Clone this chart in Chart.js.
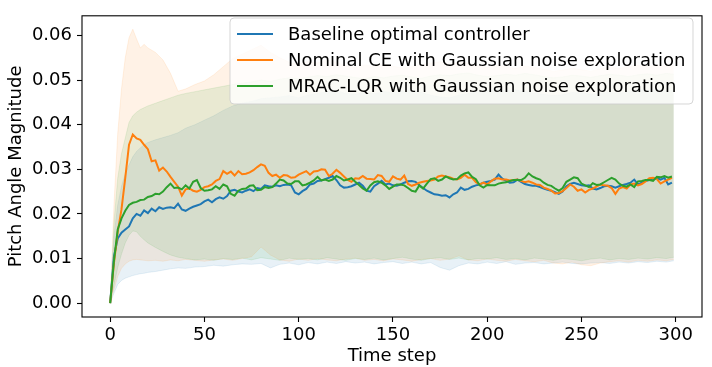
<!DOCTYPE html>
<html><head><meta charset="utf-8">
<script src="https://cdn.jsdelivr.net/npm/chart.js@4.4.0/dist/chart.umd.min.js"></script>
<style>html,body{margin:0;padding:0;background:#fff;}</style>
</head><body>
<canvas id="c" width="712" height="367" style="display:block;width:712px;height:367px"></canvas>
<script>
const FONT = "'DejaVu Sans', sans-serif";
const seriesLabels = ['Baseline optimal controller','Nominal CE with Gaussian noise exploration','MRAC-LQR with Gaussian noise exploration'];
const xTicks = [0,50,100,150,200,250,300];
const yTicks = [0,0.01,0.02,0.03,0.04,0.05,0.06];

// time steps of the mean curves (every second step)
const meanSteps = Array.from({length:150},(_,i)=>2*i);

const blueMean = [
0,0.0105,0.0145,0.0158,0.0165,0.0172,0.0190,0.0200,0.0196,0.0208,
0.0202,0.0212,0.0206,0.0215,0.0211,0.0214,0.0215,0.0213,0.0223,0.0210,
0.0207,0.0212,0.0216,0.0219,0.0222,0.0228,0.0232,0.0226,0.0233,0.0237,
0.0234,0.0240,0.0252,0.0254,0.0250,0.0248,0.0252,0.0255,0.0251,0.0258,
0.0256,0.0264,0.0262,0.0261,0.0264,0.0262,0.0265,0.0266,0.0264,0.0248,
0.0244,0.0251,0.0256,0.0266,0.0268,0.0274,0.0275,0.0278,0.0281,0.0285,
0.0276,0.0264,0.0259,0.0260,0.0262,0.0266,0.0270,0.0263,0.0252,0.0250,
0.0262,0.0268,0.0274,0.0266,0.0268,0.0264,0.0263,0.0266,0.0270,0.0273,
0.0274,0.0272,0.0264,0.0258,0.0252,0.0248,0.0244,0.0243,0.0241,0.0242,
0.0237,0.0244,0.0248,0.0259,0.0254,0.0256,0.0261,0.0264,0.0266,0.0270,
0.0272,0.0274,0.0277,0.0288,0.0279,0.0274,0.0270,0.0271,0.0277,0.0272,
0.0267,0.0265,0.0263,0.0263,0.0260,0.0257,0.0254,0.0252,0.0249,0.0245,
0.0250,0.0262,0.0267,0.0270,0.0267,0.0264,0.0263,0.0264,0.0257,0.0255,
0.0258,0.0262,0.0263,0.0262,0.0259,0.0262,0.0265,0.0267,0.0270,0.0277,
0.0266,0.0270,0.0274,0.0276,0.0279,0.0280,0.0277,0.0281,0.0266,0.0270];

const orangeMean = [
0,0.0090,0.0160,0.0210,0.0281,0.0355,0.0378,0.0369,0.0366,0.0355,
0.0345,0.0318,0.0320,0.0297,0.0304,0.0295,0.0283,0.0272,0.0261,0.0241,
0.0255,0.0257,0.0252,0.0250,0.0254,0.0260,0.0262,0.0266,0.0274,0.0278,
0.0296,0.0290,0.0295,0.0286,0.0296,0.0289,0.0290,0.0293,0.0298,0.0305,
0.0311,0.0308,0.0292,0.0285,0.0288,0.0281,0.0287,0.0286,0.0281,0.0282,
0.0288,0.0292,0.0296,0.0288,0.0295,0.0296,0.0300,0.0299,0.0285,0.0290,
0.0299,0.0292,0.0284,0.0276,0.0272,0.0280,0.0279,0.0285,0.0279,0.0278,
0.0277,0.0287,0.0285,0.0274,0.0272,0.0284,0.0279,0.0277,0.0286,0.0267,
0.0263,0.0266,0.0270,0.0272,0.0274,0.0275,0.0277,0.0284,0.0286,0.0284,
0.0282,0.0279,0.0277,0.0281,0.0288,0.0281,0.0281,0.0271,0.0266,0.0270,
0.0266,0.0273,0.0279,0.0280,0.0277,0.0277,0.0275,0.0276,0.0277,0.0274,
0.0271,0.0273,0.0270,0.0266,0.0265,0.0259,0.0256,0.0252,0.0246,0.0247,
0.0251,0.0258,0.0266,0.0261,0.0252,0.0255,0.0248,0.0254,0.0257,0.0261,
0.0266,0.0264,0.0263,0.0258,0.0245,0.0257,0.0260,0.0257,0.0266,0.0268,
0.0264,0.0267,0.0273,0.0280,0.0281,0.0278,0.0268,0.0273,0.0277,0.0281];

const greenMean = [
0,0.0095,0.0165,0.0190,0.0207,0.0220,0.0225,0.0227,0.0231,0.0232,
0.0238,0.0240,0.0245,0.0244,0.0250,0.0260,0.0268,0.0258,0.0259,0.0255,
0.0264,0.0257,0.0272,0.0276,0.0258,0.0252,0.0253,0.0255,0.0262,0.0256,
0.0266,0.0262,0.0245,0.0241,0.0252,0.0256,0.0257,0.0263,0.0264,0.0253,
0.0254,0.0260,0.0258,0.0260,0.0268,0.0277,0.0275,0.0268,0.0267,0.0273,
0.0273,0.0264,0.0266,0.0270,0.0275,0.0283,0.0275,0.0277,0.0274,0.0277,
0.0285,0.0281,0.0275,0.0277,0.0280,0.0272,0.0265,0.0257,0.0252,0.0264,
0.0271,0.0273,0.0270,0.0264,0.0256,0.0261,0.0266,0.0266,0.0264,0.0258,
0.0252,0.0250,0.0264,0.0257,0.0268,0.0278,0.0280,0.0274,0.0277,0.0284,
0.0280,0.0277,0.0278,0.0286,0.0291,0.0293,0.0283,0.0278,0.0264,0.0259,
0.0265,0.0264,0.0264,0.0268,0.0270,0.0271,0.0274,0.0276,0.0276,0.0276,
0.0281,0.0291,0.0284,0.0280,0.0277,0.0270,0.0265,0.0263,0.0257,0.0252,
0.0258,0.0272,0.0277,0.0282,0.0280,0.0268,0.0264,0.0260,0.0269,0.0265,
0.0266,0.0271,0.0276,0.0281,0.0277,0.0268,0.0263,0.0261,0.0266,0.0260,
0.0273,0.0274,0.0276,0.0276,0.0274,0.0283,0.0282,0.0285,0.0281,0.0284];

// shaded band edges
const bandSteps = [0,2,4,6,8,10,12,14,16,18,20,24,28,32,36,40,
45,50,55,60,65,70,75,80,85,90,95,100,105,110,115,120,125,130,135,140,
145,150,155,160,165,170,175,180,185,190,195,200,205,210,215,220,225,230,235,240,
245,250,255,260,265,270,275,280,285,290,295,299];

const blueLo = [0,0.0022,0.0042,0.0051,0.0056,0.0059,0.0062,0.0064,0.0066,0.0067,
0.0069,0.0071,0.0074,0.0077,0.0079,0.0078,
0.0081,0.0082,0.0085,0.0083,0.0086,0.0088,0.0087,0.0089,0.0079,0.0087,
0.0090,0.0086,0.0091,0.0088,0.0092,0.0089,0.0093,0.0090,0.0092,0.0088,
0.0091,0.0093,0.0089,0.0092,0.0088,0.0091,0.0080,0.0074,0.0084,0.0090,
0.0088,0.0092,0.0089,0.0093,0.0087,0.0090,0.0091,0.0088,0.0090,0.0092,
0.0089,0.0088,0.0090,0.0091,0.0089,0.0092,0.0090,0.0093,0.0091,0.0094,
0.0092,0.0095];
const blueHi = [0,0.0150,0.0220,0.0262,0.0290,0.0310,0.0328,0.0340,0.0348,0.0355,
0.0360,0.0366,0.0371,0.0376,0.0382,0.0392,
0.0400,0.0410,0.0420,0.0432,0.0442,0.0448,0.0452,0.0458,0.0460,0.0462,
0.0465,0.0460,0.0466,0.0470,0.0474,0.0476,0.0470,0.0468,0.0472,0.0469,
0.0474,0.0471,0.0475,0.0478,0.0472,0.0466,0.0462,0.0460,0.0466,0.0470,
0.0474,0.0477,0.0480,0.0476,0.0478,0.0474,0.0470,0.0468,0.0465,0.0467,
0.0472,0.0471,0.0468,0.0470,0.0472,0.0470,0.0474,0.0478,0.0476,0.0479,
0.0475,0.0477];
const orangeLo = [0,0.0030,0.0060,0.0078,0.0088,0.0094,0.0097,0.0098,0.0097,0.0096,
0.0095,0.0096,0.0094,0.0097,0.0095,0.0098,
0.0096,0.0094,0.0097,0.0099,0.0096,0.0100,0.0104,0.0126,0.0108,0.0097,
0.0094,0.0099,0.0096,0.0100,0.0097,0.0095,0.0099,0.0101,0.0096,0.0098,
0.0095,0.0099,0.0097,0.0094,0.0098,0.0100,0.0096,0.0099,0.0106,0.0097,
0.0095,0.0099,0.0096,0.0094,0.0098,0.0095,0.0093,0.0096,0.0090,0.0088,
0.0092,0.0086,0.0084,0.0090,0.0093,0.0095,0.0092,0.0096,0.0094,0.0097,
0.0095,0.0098];
const orangeHi = [0,0.0220,0.0380,0.0480,0.0550,0.0595,0.0614,0.0592,0.0572,0.0580,
0.0572,0.0562,0.0545,0.0515,0.0475,0.0480,
0.0490,0.0498,0.0512,0.0530,0.0548,0.0558,0.0568,0.0578,0.0562,0.0550,
0.0540,0.0535,0.0542,0.0538,0.0545,0.0540,0.0532,0.0528,0.0534,0.0530,
0.0536,0.0531,0.0527,0.0530,0.0534,0.0538,0.0541,0.0536,0.0540,0.0538,
0.0532,0.0528,0.0533,0.0530,0.0526,0.0531,0.0528,0.0524,0.0520,0.0522,
0.0527,0.0523,0.0520,0.0525,0.0529,0.0526,0.0530,0.0533,0.0530,0.0534,
0.0531,0.0533];
const greenLo = [0,0.0040,0.0080,0.0110,0.0135,0.0152,0.0162,0.0160,0.0150,0.0142,
0.0135,0.0125,0.0116,0.0108,0.0103,0.0100,
0.0097,0.0099,0.0096,0.0100,0.0098,0.0101,0.0097,0.0102,0.0099,0.0096,
0.0101,0.0098,0.0100,0.0097,0.0102,0.0099,0.0096,0.0100,0.0098,0.0101,
0.0097,0.0100,0.0103,0.0099,0.0096,0.0100,0.0102,0.0098,0.0101,0.0097,
0.0100,0.0099,0.0102,0.0098,0.0100,0.0097,0.0101,0.0099,0.0096,0.0100,
0.0098,0.0095,0.0099,0.0101,0.0097,0.0100,0.0098,0.0101,0.0099,0.0102,
0.0100,0.0103];
const greenHi = [0,0.0180,0.0280,0.0335,0.0370,0.0405,0.0420,0.0428,0.0434,0.0438,
0.0442,0.0448,0.0454,0.0460,0.0466,0.0470,
0.0474,0.0478,0.0482,0.0486,0.0490,0.0493,0.0496,0.0500,0.0497,0.0502,
0.0505,0.0503,0.0507,0.0510,0.0508,0.0512,0.0509,0.0506,0.0503,0.0508,
0.0505,0.0509,0.0511,0.0507,0.0504,0.0509,0.0512,0.0510,0.0514,0.0516,
0.0511,0.0508,0.0510,0.0513,0.0511,0.0515,0.0512,0.0508,0.0505,0.0507,
0.0511,0.0509,0.0506,0.0510,0.0513,0.0511,0.0508,0.0512,0.0514,0.0511,
0.0515,0.0513];

const COLORS = ['#1f77b4','#ff7f0e','#2ca02c'];
const FILLS = ['rgba(31,119,180,0.1)','rgba(255,127,14,0.1)','rgba(44,160,44,0.1)'];

const pts = (xs, ys) => xs.map((x,i)=>({x:x, y:ys[i]}));
const means = [blueMean, orangeMean, greenMean];
const bands = [[blueLo,blueHi],[orangeLo,orangeHi],[greenLo,greenHi]];

const datasets = [];
means.forEach((m,i)=>{
  datasets.push({label:seriesLabels[i], data:pts(meanSteps,m), borderColor:COLORS[i], borderWidth:2,
    pointRadius:0, fill:false, tension:0, order:3-i});
});
bands.forEach((b,i)=>{
  datasets.push({label:'lo'+i, data:pts(bandSteps,b[0]), borderColor:FILLS[i], borderWidth:1,
    pointRadius:0, fill:false, tension:0, order:20-2*i});
  datasets.push({label:'hi'+i, data:pts(bandSteps,b[1]), borderColor:FILLS[i], backgroundColor:FILLS[i], borderWidth:1,
    pointRadius:0, fill:'-1', tension:0, order:19-2*i});
});

const framePlugin = {
  id:'frame',
  afterDatasetsDraw(chart){
    const {ctx, chartArea:a} = chart;
    ctx.save();
    ctx.strokeStyle = '#000'; ctx.lineWidth = 1.1;
    ctx.strokeRect(a.left, a.top, a.right-a.left, a.bottom-a.top);
    ctx.restore();
  }
};

const legendPlugin = {
  id:'boxLegend',
  afterDraw(chart){
    const ctx = chart.ctx;
    const x0 = 230, y0 = 18, w = 463, h = 86, r = 4;
    ctx.save();
    ctx.beginPath();
    ctx.roundRect(x0, y0, w, h, r);
    ctx.fillStyle = 'rgba(255,255,255,0.8)';
    ctx.fill();
    ctx.strokeStyle = 'rgba(204,204,204,0.8)';
    ctx.lineWidth = 1;
    ctx.stroke();
    ctx.font = '18px ' + FONT;
    ctx.textBaseline = 'middle';
    ctx.textAlign = 'left';
    for (let i=0;i<3;i++){
      const ds = chart.data.datasets[i];
      const yy = 34 + 26*i;
      ctx.beginPath();
      ctx.moveTo(237, yy); ctx.lineTo(273, yy);
      ctx.strokeStyle = ds.borderColor; ctx.lineWidth = 2;
      ctx.stroke();
      ctx.fillStyle = '#000';
      ctx.fillText(ds.label, 288, yy+1);
    }
    ctx.restore();
  }
};

new Chart(document.getElementById('c'), {
  type:'line',
  data:{datasets},
  options:{
    responsive:false, animation:false, devicePixelRatio:1,
    layout:{padding:{top:9,right:10,left:0,bottom:0}},
    plugins:{legend:{display:false}, tooltip:{enabled:false}},
    scales:{
      x:{type:'linear', min:-14.95, max:313.95,
        afterBuildTicks:s=>{s.ticks = xTicks.map(v=>({value:v}));},
        afterFit:s=>{s.height = 50;},
        grid:{display:true, drawOnChartArea:false, drawTicks:true, tickLength:5, tickColor:'#000', tickWidth:1.1},
        border:{display:false},
        ticks:{color:'#000', font:{family:FONT,size:18}, padding:3, maxRotation:0, autoSkip:false, callback:v=>String(v)},
        title:{display:true, text:'Time step', color:'#000', font:{family:FONT,size:18}, padding:{top:0,bottom:0}}
      },
      y:{type:'linear', min:-0.0031, max:0.0644,
        afterBuildTicks:s=>{s.ticks = yTicks.map(v=>({value:v}));},
        afterFit:s=>{s.width = 82;},
        grid:{display:true, drawOnChartArea:false, drawTicks:true, tickLength:5, tickColor:'#000', tickWidth:1.1},
        border:{display:false},
        ticks:{color:'#000', font:{family:FONT,size:18}, padding:5, autoSkip:false, callback:v=>v.toFixed(2)},
        title:{display:true, text:'Pitch Angle Magnitude', color:'#000', font:{family:FONT,size:18}, padding:{top:6,bottom:0}}
      }
    }
  },
  plugins:[framePlugin, legendPlugin]
});
</script>
</body></html>
